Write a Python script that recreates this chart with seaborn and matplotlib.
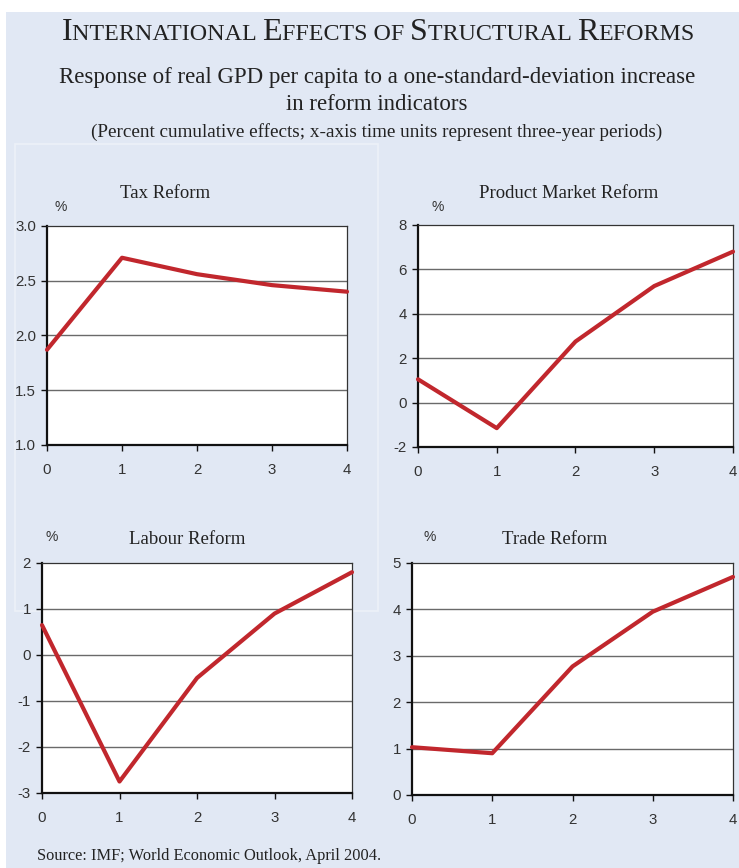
import numpy as np
import matplotlib.pyplot as plt
import pandas as pd
import seaborn as sns
from matplotlib.offsetbox import TextArea, HPacker, AnchoredOffsetbox
from matplotlib.patches import Rectangle

# data
periods = [0, 1, 2, 3, 4]
tax = [1.87, 2.71, 2.56, 2.46, 2.40]
product = [1.05, -1.15, 2.75, 5.25, 6.8]
labour = [0.65, -2.75, -0.5, 0.9, 1.8]
trade = [1.03, 0.9, 2.77, 3.95, 4.7]

W, H = 739, 868
BG = "#e1e8f4"
RED = "#c1272d"

sns.set_theme(style="white")
plt.rcParams['font.family'] = ['Liberation Sans', 'DejaVu Sans']

fig = plt.figure(figsize=(W / 100, H / 100), dpi=100)
fig.patch.set_facecolor("white")

def px(x, y):
    return x / W, 1 - y / H

# blue panel behind everything
fig.add_artist(Rectangle(px(6, 868), 1 - 6 / W, (868 - 12) / H, transform=fig.transFigure,
                         facecolor=BG, edgecolor="none", zorder=-10))
# faint inner box
fig.add_artist(Rectangle(px(15, 611), (378 - 15) / W, (611 - 144) / H, transform=fig.transFigure,
                         facecolor="none", edgecolor="#edf1f8", lw=1.2, zorder=-9))

# small caps title
serif = "Liberation Serif"
parts = [("I", 23), ("NTERNATIONAL ", 17.3), ("E", 23), ("FFECTS OF ", 17.3),
         ("S", 23), ("TRUCTURAL ", 17.3), ("R", 23), ("EFORMS", 17.3)]
boxes = [TextArea(t, textprops=dict(family=serif, size=s, color="#222222")) for t, s in parts]
pack = HPacker(children=boxes, align="baseline", pad=0, sep=0)
title = AnchoredOffsetbox(loc="center", child=pack, frameon=False, pad=0, borderpad=0,
                          bbox_to_anchor=px(378, 32), bbox_transform=fig.transFigure)
fig.add_artist(title)

fig.text(*px(377, 78), "Response of real GPD per capita to a one-standard-deviation increase",
         family=serif, size=16.5, ha="center", va="center", color="#222222")
fig.text(*px(377, 104), "in reform indicators",
         family=serif, size=16.5, ha="center", va="center", color="#222222")
fig.text(*px(377, 132), "(Percent cumulative effects; x-axis time units represent three-year periods)",
         family=serif, size=13.8, ha="center", va="center", color="#222222")
fig.text(*px(37, 856), "Source: IMF; World Economic Outlook, April 2004.",
         family=serif, size=11.8, ha="left", va="center", color="#222222")

panels = [
    ("Tax Reform", tax, (47, 226, 347, 445), (1.0, 3.0), [1.0, 1.5, 2.0, 2.5, 3.0], "{:.1f}",
     (165, 193), (61, 207)),
    ("Product Market Reform", product, (418, 225, 733, 447), (-2, 8), [-2, 0, 2, 4, 6, 8], "{:.0f}",
     (569, 193), (438, 207)),
    ("Labour Reform", labour, (42, 563, 352, 793), (-3, 2), [-3, -2, -1, 0, 1, 2], "{:.0f}",
     (187, 539), (52, 537)),
    ("Trade Reform", trade, (412, 563, 733, 795), (0, 5), [0, 1, 2, 3, 4, 5], "{:.0f}",
     (555, 539), (430, 537)),
]

for name, vals, (x0, y0, x1, y1), ylim, yticks, fmt, tpos, ppos in panels:
    ax = fig.add_axes([x0 / W, 1 - y1 / H, (x1 - x0) / W, (y1 - y0) / H])
    ax.set_facecolor("white")
    df = pd.DataFrame({"period": periods, "value": vals})
    sns.lineplot(data=df, x="period", y="value", ax=ax, color=RED, lw=3, zorder=5, clip_on=False)
    ax.set_xlim(0, 4)
    ax.set_ylim(*ylim)
    ax.set_xticks(periods)
    ax.set_yticks(yticks)
    ax.set_yticklabels([fmt.format(v) for v in yticks])
    ax.set_xlabel("")
    ax.set_ylabel("")
    for v in yticks[1:-1]:
        ax.axhline(v, color="#6a6a6a", lw=1, zorder=1)
    for side in ["left", "bottom"]:
        ax.spines[side].set_color("#111111")
        ax.spines[side].set_linewidth(1.6)
    for side in ["top", "right"]:
        ax.spines[side].set_color("#333333")
        ax.spines[side].set_linewidth(0.9)
    ax.tick_params(axis="both", direction="out", length=4, width=1, color="#111111",
                   labelsize=10.8, labelcolor="#333333", left=True, bottom=True)
    ax.tick_params(axis="x", pad=9)
    ax.tick_params(axis="y", pad=4)
    fig.text(*px(*tpos), name, family=serif, size=13.5, ha="center", va="center", color="#222222")
    fig.text(*px(*ppos), "%", size=10, ha="center", va="center", color="#333333")

fig.savefig("out.png", dpi=100, facecolor=fig.get_facecolor())
